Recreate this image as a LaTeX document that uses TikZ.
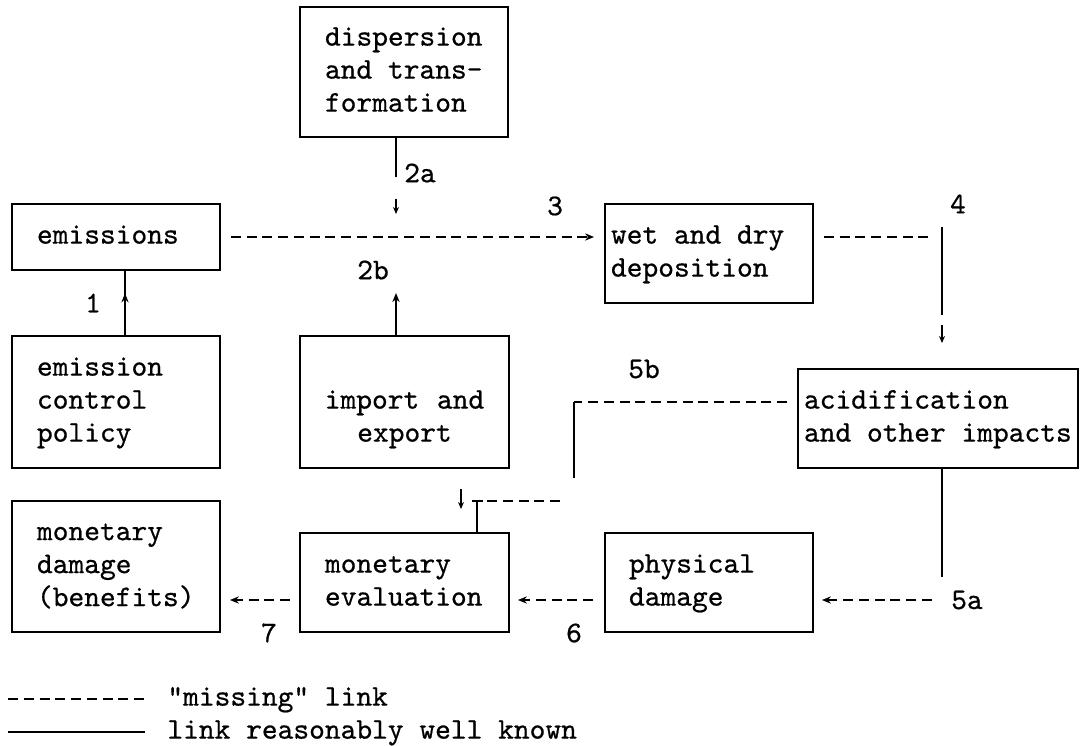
\documentclass[tikz,border=0pt]{standalone}
\usepackage{fontspec}
\newfontfamily\tw{lmmono10-regular.otf}[FakeBold=0.6]
\usetikzlibrary{arrows.meta,decorations.markings}
\begin{document}
\begin{tikzpicture}[x=0.5pt,y=-0.5pt,
  every node/.style={font=\tw\fontsize{15pt}{16.5pt}\selectfont, inner sep=0pt,
    execute at begin node={\spaceskip=0pt\xspaceskip=0pt\relax}},
  box/.style={draw, line width=0.9pt, inner ysep=0pt, align=left},
  known/.style={line width=0.9pt},
  missing/.style={line width=0.9pt, dash pattern=on 5pt off 2.875pt},
  arr/.style={-{Stealth[length=4.5pt,width=3.6pt]}},
  smallarr/.style={line width=0.8pt, -{Stealth[length=3.5pt,width=3pt]}},
  midarr/.style={postaction={decorate}, decoration={markings,
    mark=at position #1 with {\arrow{Stealth[length=4.5pt,width=3.6pt]}}}}
]
\fill[white] (0,0) rectangle (1082,745);
\useasboundingbox (0,0) rectangle (1082,745);

% boxes
\node[box, text width=79pt, inner xsep=12.5pt, minimum height=65pt] (disp) at (404,72)
  {\strut dispersion\\\strut and trans-\\\strut formation};
\node[box, text width=79pt, inner xsep=12.5pt, minimum height=33pt] (emis) at (116,237)
  {\strut emissions};
\node[box, text width=98pt, inner xsep=3pt, minimum height=49.5pt] (depo) at (709,253.5)
  {\strut wet and dry\\\strut deposition};
\node[box, text width=79pt, inner xsep=12.5pt, minimum height=66pt] (policy) at (116,402)
  {\strut emission\\\strut control\\\strut policy};
\node[box, align=center, text width=94.5pt, inner xsep=5pt, minimum height=66pt] (import) at (404.5,402)
  {\strut\\\strut import and\\\strut export};
\node[box, text width=134pt, inner xsep=3pt, minimum height=49.5pt] (acid) at (938,418.5)
  {\strut acidification\\\strut and other impacts};
\node[box, text width=79pt, inner xsep=12.5pt, minimum height=65.5pt] (mondam) at (116,566.5)
  {\strut monetary\\\strut damage\\\strut (benefits)};
\node[box, text width=79.5pt, inner xsep=12.5pt, minimum height=49.5pt] (eval) at (404.5,582.5)
  {\strut monetary\\\strut evaluation};
\node[box, text width=80pt, inner xsep=12pt, minimum height=49.5pt] (phys) at (709,582.5)
  {\strut physical\\\strut damage};

% 1
\draw[known, midarr=0.65] ([xshift=4.5pt]policy.north) -- ([xshift=4.5pt]emis.south);
\node (l1) at (93,303) {1};

% 2a
\coordinate (c2a) at (396,177);
\draw[known] (c2a |- disp.south) -- (c2a);
\node (l2a) at (420,173) {2a};
\coordinate (c2at) at (396,199);
\coordinate (c2ah) at (396,214);
\draw[smallarr] (c2at) -- (c2ah);

% 2b
\coordinate (c2b) at (396,293);
\draw[known, arr] (c2b |- import.north) -- (c2b);
\node (l2b) at (373,270) {2b};

% 3
\draw[missing, arr, shorten <=5pt, shorten >=5pt] (emis.east) -- (emis.east -| depo.west);
\node (l3) at (555,206) {3};

% 4
\coordinate (c4h) at (932,237);
\coordinate (c4t) at (942,227);
\coordinate (c4b) at (942,315);
\draw[missing, shorten <=5pt] (emis.east -| depo.east) -- (c4h);
\draw[known] (c4t) -- (c4b);
\coordinate (c4at) at (942,325);
\coordinate (c4ah) at (942,343);
\draw[smallarr] (c4at) -- (c4ah);
\node (l4) at (958,204) {4};

% 5a
\coordinate (c5a) at (942,577);
\draw[known] (c5a |- acid.south) -- (c5a);
\node (l5a) at (967,600) {5a};
\draw[missing, arr, shorten <=9.5pt, shorten >=4pt] (l5a.west) -- (l5a.west -| phys.east);

% 5b
\coordinate (c5b) at (574,402);
\coordinate (c5bd) at (574,478);
\draw[missing, shorten <=5pt] (acid.west |- c5b) -- (c5b);
\draw[known] (c5b) -- (c5bd);
\node (l5b) at (644,369) {5b};

% T junction into monetary evaluation
\coordinate (cT) at (477,501);
\coordinate (cTe) at (563,501);
\draw[known] (cT |- eval.north) -- (cT);
\draw[known] ([xshift=-2.75pt]cT) -- ([xshift=2.75pt]cT);
\draw[missing] ([xshift=5pt]cT) -- (cTe);
\coordinate (cTat) at (461,489);
\coordinate (cTah) at (461,509);
\draw[smallarr] (cTat) -- (cTah);

% 6
\draw[missing, arr, shorten <=5.5pt, shorten >=4pt] ([yshift=-8.75pt]phys.west) -- ([yshift=-8.75pt]eval.east);
\node (l6) at (574,633) {6};

% 7
\draw[missing, arr, shorten <=4.5pt, shorten >=4.5pt] ([yshift=-8.75pt]eval.west) -- ([yshift=-8.75pt]eval.west -| mondam.east);
\node (l7) at (269,633) {7};

% legend
\node[anchor=west] (leg1) at (167,699) {\strut "missing" link};
\node[anchor=west] (leg2) at (167,732) {\strut link reasonably well known};
\coordinate (lg1) at (8,699);
\coordinate (lg2) at (8,732);
\draw[missing, shorten >=11pt] (lg1) -- (lg1 -| leg1.west);
\draw[known, shorten >=11pt] (lg2) -- (lg2 -| leg2.west);
\end{tikzpicture}
\end{document}
